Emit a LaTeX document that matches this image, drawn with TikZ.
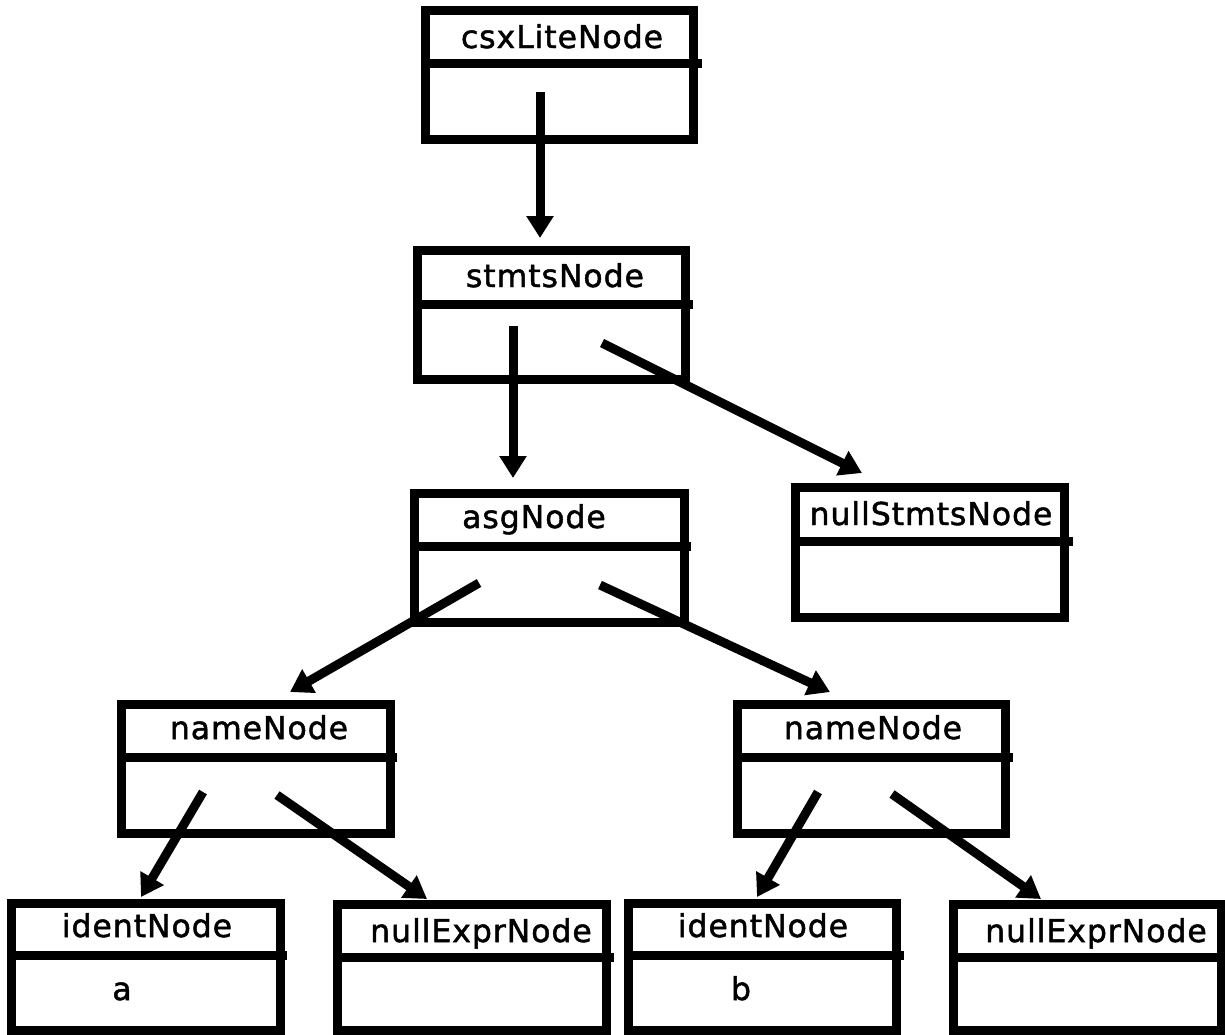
\documentclass[tikz,border=0pt]{standalone}
\usepackage{fontspec}
\setmainfont{DejaVu Sans}[LetterSpace=3,FakeBold=1.5]
\usetikzlibrary{arrows.meta}
\begin{document}
\begin{tikzpicture}[x=1pt,y=-1pt,
  box/.style={draw, line width=9pt, inner sep=0pt, outer sep=0pt, minimum width=#1},
  box/.default=268pt,
  div/.style={line width=9pt},
  lbl/.style={anchor=base, inner sep=0pt, font=\fontsize{31.5}{36}\selectfont},
  conn/.style={line width=9pt, -{Triangle[width=26pt,length=22pt]}}]
\useasboundingbox (0,0) rectangle (1225,1034);
% boxes
\node[box=268pt, minimum height=129pt] (csx) at (559,74.5) {};
\node[box=268pt, minimum height=129pt] (stmts) at (551,314.5) {};
\node[box=270pt, minimum height=129pt] (asg) at (549,557.5) {};
\node[box=269pt, minimum height=130pt] (nullstmts) at (929.5,552) {};
\node[box=269pt, minimum height=129pt] (nameL) at (255.5,768.5) {};
\node[box=268pt, minimum height=129pt] (nameR) at (871,768.5) {};
\node[box=269pt, minimum height=127pt] (identA) at (145.5,966.5) {};
\node[box=269pt, minimum height=126pt] (nullexprL) at (471.5,967) {};
\node[box=268pt, minimum height=127pt] (identB) at (762,966.5) {};
\node[box=268pt, minimum height=126pt] (nullexprR) at (1087,967) {};
% dividers
\draw[div] (csx.west |- 0,63) -- (702,63);
\draw[div] (stmts.west |- 0,304) -- (693,304);
\draw[div] (asg.west |- 0,546) -- (691,546);
\draw[div] (nullstmts.west |- 0,541) -- (1073,541);
\draw[div] (nameL.west |- 0,757) -- (397,757);
\draw[div] (nameR.west |- 0,757) -- (1013,757);
\draw[div] (identA.west |- 0,955) -- (287,955);
\draw[div] (nullexprL.west |- 0,957) -- (614,957);
\draw[div] (identB.west |- 0,955) -- (904,955);
\draw[div] (nullexprR.west |- 0,957) -- (1229,957);
% labels
\node[lbl] (tcsx) at (562,48) {csxLiteNode};
\node[lbl] (tstmts) at (555,287) {stmtsNode};
\node[lbl] (tasg) at (534,528) {asgNode};
\node[lbl] (tnullstmts) at (931,525) {nullStmtsNode};
\node[lbl] (tnameL) at (259,739) {nameNode};
\node[lbl] (tnameR) at (873,739) {nameNode};
\node[lbl] (tidentA) at (147,937) {identNode};
\node[lbl] (va) at (122,1000) {a};
\node[lbl] (tnullexprL) at (481,942) {nullExprNode};
\node[lbl] (tidentB) at (763,937) {identNode};
\node[lbl] (vb) at (741,1000) {b};
\node[lbl] (tnullexprR) at (1096,942) {nullExprNode};
% connector ends
\coordinate (s1) at (540,92);   \coordinate (e1) at (540,238);
\coordinate (s2) at (513,326);  \coordinate (e2) at (513,478);
\coordinate (s3) at (602,343);  \coordinate (e3) at (862,473);
\coordinate (s4) at (479,583);  \coordinate (e4) at (290,692);
\coordinate (s5) at (600,585);  \coordinate (e5) at (830,692);
\coordinate (s6) at (203,792);  \coordinate (e6) at (141,897);
\coordinate (s7) at (277,795);  \coordinate (e7) at (427,899);
\coordinate (s8) at (818,792);  \coordinate (e8) at (757,897);
\coordinate (s9) at (892,794);  \coordinate (e9) at (1041,899);
% connectors
\draw[conn] (s1) -- (e1);
\draw[conn] (s2) -- (e2);
\draw[conn] (s3) -- (e3);
\draw[conn] (s4) -- (e4);
\draw[conn] (s5) -- (e5);
\draw[conn] (s6) -- (e6);
\draw[conn] (s7) -- (e7);
\draw[conn] (s8) -- (e8);
\draw[conn] (s9) -- (e9);
\end{tikzpicture}
\end{document}
